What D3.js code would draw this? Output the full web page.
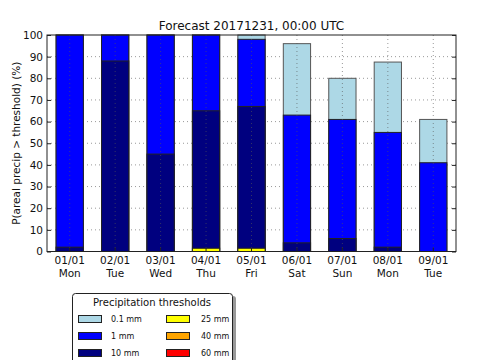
<!DOCTYPE html>
<html><head><meta charset="utf-8">
<script src="https://cdn.jsdelivr.net/npm/d3@7"></script>
<style>body{margin:0;background:#fff}svg{display:block}text{font-family:"DejaVu Sans",sans-serif;fill:#111}</style>
</head><body><svg id="c" width="480" height="360"></svg>
<script>
const dates = ["01/01","02/01","03/01","04/01","05/01","06/01","07/01","08/01","09/01"];
const weekdays = ["Mon","Tue","Wed","Thu","Fri","Sat","Sun","Mon","Tue"];
const p01 = [100,100,100,100,100,96,80,87.5,61];
const p1  = [100,100,100,100,98,63,61,55,41];
const p10 = [2,88,45,65,67,4,6,2,0];
const p25 = [0,0,0,1.5,1.5,0,0,0,0];
const p40 = [0,0,0,0,0,0,0,0,0];
const p60 = [0,0,0,0,0,0,0,0,0];
const yTicks = [0,10,20,30,40,50,60,70,80,90,100];
const thresholds = ["0.1 mm","1 mm","10 mm","25 mm","40 mm","60 mm"];
const colors = ["#add8e6","#0000ff","#00007f","#ffff00","#ffa500","#ff0000"];
const series = [p01,p1,p10,p25,p40,p60];

const svg = d3.select("#c");
const L=47,R=456,T=35,B=251.5;
const x = d3.scaleBand().domain(dates).range([L,R]).paddingInner(0.4).paddingOuter(0.2);
const y = d3.scaleLinear().domain([0,100]).range([B,T]);

svg.append("g").selectAll("line").data(yTicks.slice(1,-1)).join("line")
  .attr("x1",L).attr("x2",R).attr("y1",d=>y(d)).attr("y2",d=>y(d))
  .attr("stroke","#999").attr("stroke-dasharray","1,3").attr("stroke-width",1);

series.forEach((s,k)=>{
  svg.append("g").selectAll("rect").data(s.map((v,i)=>({v,d:dates[i]})).filter(o=>o.v>0)).join("rect")
    .attr("x",o=>x(o.d)).attr("width",x.bandwidth())
    .attr("y",o=>y(o.v)).attr("height",o=>y(0)-y(o.v))
    .attr("fill",colors[k]).attr("stroke",k===0?"#555":"#222").attr("stroke-width",1);
});

svg.append("g").selectAll("line").data(dates).join("line")
  .attr("x1",d=>x(d)+x.bandwidth()/2).attr("x2",d=>x(d)+x.bandwidth()/2)
  .attr("y1",T).attr("y2",B)
  .attr("stroke","#555").attr("stroke-opacity",0.6).attr("stroke-dasharray","1,3").attr("stroke-width",1);

svg.append("rect").attr("x",L).attr("y",T).attr("width",R-L).attr("height",B-T)
  .attr("fill","none").attr("stroke","#222").attr("stroke-width",1);

const ya = svg.append("g").attr("transform",`translate(${L},0)`)
  .call(d3.axisLeft(y).tickValues(yTicks).tickSizeInner(-4).tickSizeOuter(0).tickPadding(4));
ya.select(".domain").remove();
ya.selectAll("text").style("font-size","10.5px").attr("fill","#111");
ya.selectAll("line").attr("stroke","#222");
const yr = svg.append("g").attr("transform",`translate(${R},0)`)
  .call(d3.axisRight(y).tickValues(yTicks).tickSizeInner(-4).tickSizeOuter(0).tickFormat(""));
yr.select(".domain").remove();
yr.selectAll("line").attr("stroke","#222");

const xa = svg.append("g").attr("transform",`translate(0,${B})`)
  .call(d3.axisBottom(x).tickSizeInner(-4).tickSizeOuter(0).tickFormat(""));
xa.select(".domain").remove();
xa.selectAll("line").attr("stroke","#222");
svg.append("g").selectAll("text").data(dates).join("text")
  .attr("x",d=>x(d)+x.bandwidth()/2).attr("y",264).attr("text-anchor","middle")
  .style("font-size","10.5px").text(d=>d);
svg.append("g").selectAll("text").data(weekdays).join("text")
  .attr("x",(d,i)=>x(dates[i])+x.bandwidth()/2).attr("y",276.5).attr("text-anchor","middle")
  .style("font-size","10.5px").text(d=>d);

svg.append("text").attr("x",(L+R)/2).attr("y",30).attr("text-anchor","middle")
  .style("font-size","12px").text("Forecast 20171231, 00:00 UTC");
svg.append("text").attr("transform",`translate(20,${(T+B)/2}) rotate(-90)`).attr("text-anchor","middle")
  .style("font-size","10.5px").text("P(areal precip > threshold) (%)");

const lg = svg.append("g");
lg.append("rect").attr("x",75).attr("y",296).attr("width",161).attr("height",80).attr("rx",3)
  .attr("fill","#999");
lg.append("rect").attr("x",72.5).attr("y",293.5).attr("width",160).attr("height",80).attr("rx",3)
  .attr("fill","#fff").attr("stroke","#222");
lg.append("text").attr("x",152).attr("y",306).attr("text-anchor","middle")
  .style("font-size","10px").text("Precipitation thresholds");
thresholds.forEach((t,k)=>{
  const col=Math.floor(k/3), row=k%3;
  const px = col? 166:78, tx = col? 201:111, cy = 319 + row*17;
  lg.append("rect").attr("x",px+0.5).attr("y",cy-3.5).attr("width",23).attr("height",7)
    .attr("fill",colors[k]).attr("stroke","#222");
  lg.append("text").attr("x",tx).attr("y",cy+3).style("font-size","8px").text(t);
});
</script></body></html>
